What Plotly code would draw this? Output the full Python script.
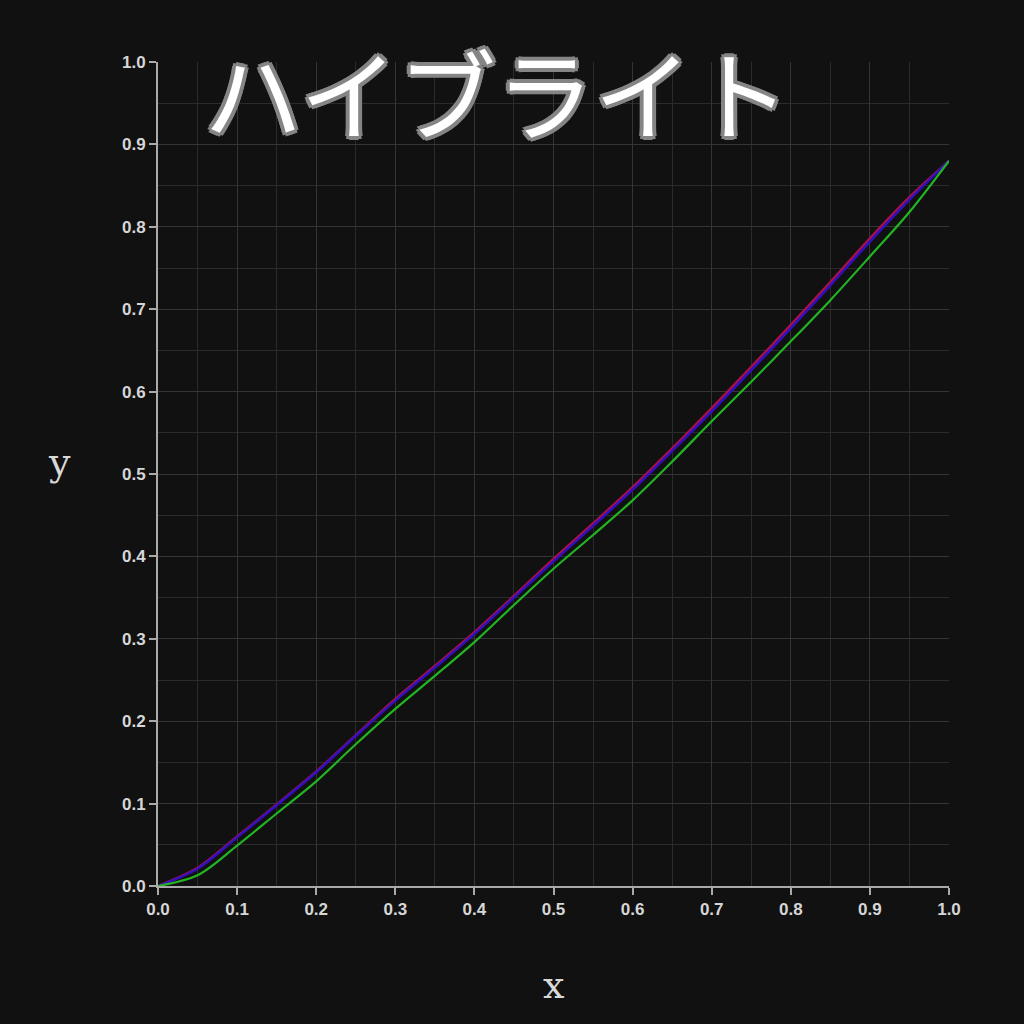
import plotly.graph_objects as go

x_vals = [0.0, 0.05, 0.1, 0.15, 0.2, 0.25, 0.3, 0.35, 0.4, 0.45, 0.5,
          0.55, 0.6, 0.65, 0.7, 0.75, 0.8, 0.85, 0.9, 0.95, 1.0]
red_vals = [0.0, 0.022, 0.060, 0.099, 0.139, 0.183, 0.227, 0.267, 0.308, 0.352, 0.397,
            0.440, 0.484, 0.531, 0.580, 0.630, 0.681, 0.733, 0.786, 0.836, 0.88]
blue_vals = [0.0, 0.021, 0.059, 0.098, 0.138, 0.182, 0.225, 0.265, 0.306, 0.350, 0.394,
             0.437, 0.481, 0.528, 0.576, 0.626, 0.677, 0.729, 0.782, 0.833, 0.88]
green_vals = [0.0, 0.013, 0.049, 0.088, 0.127, 0.172, 0.215, 0.255, 0.296, 0.341, 0.385,
              0.426, 0.468, 0.515, 0.564, 0.612, 0.661, 0.711, 0.764, 0.818, 0.88]
tick_vals = [0.0, 0.1, 0.2, 0.3, 0.4, 0.5, 0.6, 0.7, 0.8, 0.9, 1.0]

title_text = "ハイブライト"

fig = go.Figure()
fig.add_trace(go.Scatter(x=x_vals, y=red_vals, mode="lines",
                         line=dict(color="#a8104a", width=2.5, shape="spline", smoothing=0.9)))
fig.add_trace(go.Scatter(x=x_vals, y=blue_vals, mode="lines",
                         line=dict(color="#3210c0", width=2.5, shape="spline", smoothing=0.9)))
fig.add_trace(go.Scatter(x=x_vals, y=green_vals, mode="lines",
                         line=dict(color="#22b422", width=2.2, shape="spline", smoothing=0.9)))

axis_common = dict(
    range=[0, 1],
    tickvals=tick_vals,
    tickformat=".1f",
    showgrid=True,
    gridcolor="#353535",
    gridwidth=1,
    minor=dict(dtick=0.05, showgrid=True, gridcolor="#2b2b2b", gridwidth=1),
    zeroline=False,
    showline=True,
    linecolor="#aaaaaa",
    linewidth=2,
    ticks="outside",
    ticklen=7,
    tickwidth=2,
    tickcolor="#aaaaaa",
    tickfont=dict(family="Liberation Sans, Arial", size=17, color="#d6d6d6", weight="bold"),
)

outline = ", ".join(f"{dx}px {dy}px 0 #858585" for dx, dy in
                    [(4, 0), (-4, 0), (0, 4), (0, -4), (3, 3), (-3, -3), (3, -3), (-3, 3),
                     (2, 0), (-2, 0), (0, 2), (0, -2)])

fig.update_layout(
    width=1024, height=1024,
    paper_bgcolor="#111111",
    plot_bgcolor="#111111",
    showlegend=False,
    margin=dict(l=158, r=75, t=62, b=138),
    xaxis=dict(**axis_common),
    yaxis=dict(**axis_common),
    annotations=[
        dict(text=title_text, xref="paper", yref="paper", x=0.4286, y=0.966,
             xanchor="center", yanchor="middle", showarrow=False,
             font=dict(family="Noto Sans CJK JP", size=98, color="white", weight=400,
                       shadow=outline)),
        dict(text="x", xref="paper", yref="paper", x=0.4994, y=-0.120,
             xanchor="center", yanchor="middle", showarrow=False,
             font=dict(family="DejaVu Serif, Liberation Serif", size=38, color="#d8d8d8")),
        dict(text="y", xref="paper", yref="paper", x=-0.124, y=0.5146,
             xanchor="center", yanchor="middle", showarrow=False,
             font=dict(family="DejaVu Serif, Liberation Serif", size=38, color="#d8d8d8")),
    ],
)

fig.write_html("out.html", config={"displayModeBar": False},
               post_script="document.body.style.margin='0';document.body.style.background='#111111';document.body.style.overflow='hidden';")
